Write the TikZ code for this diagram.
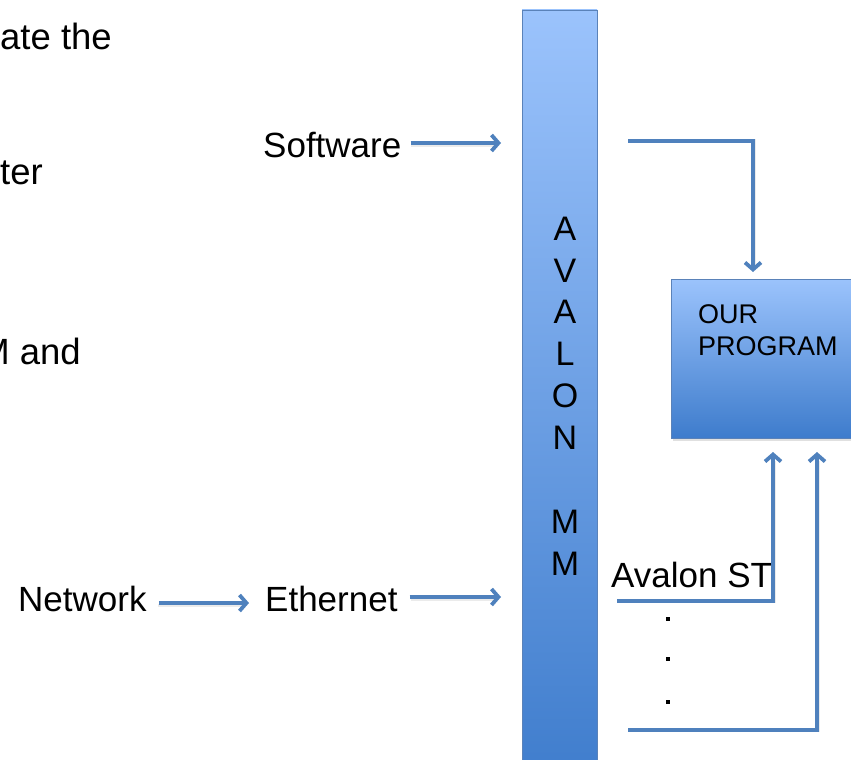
\documentclass[tikz,border=0pt]{standalone}
\usepackage{fontspec}
\setmainfont{Liberation Sans}
\usetikzlibrary{arrows.meta}
\definecolor{linkblue}{RGB}{79,129,189}
\definecolor{boxtop}{RGB}{155,195,252}
\definecolor{boxbot}{RGB}{62,124,204}
\definecolor{boxedge}{RGB}{90,130,185}
\tikzset{
  lbl/.style={inner sep=0pt, font=\fontsize{35}{40}\selectfont},
  small/.style={inner sep=0pt, font=\fontsize{27}{31.5}\selectfont, align=left},
  link/.style={draw=linkblue, line width=3.8pt,
    -{Straight Barb[length=7pt,width=16pt]}},
  shadowlink/.style={draw=black, opacity=0.08, line width=3.5pt},
  blockfill/.style={top color=boxtop, bottom color=boxbot, draw=boxedge, line width=0.8pt},
}
\begin{document}
\begin{tikzpicture}[x=1pt,y=-1pt]
\useasboundingbox (0,0) rectangle (851,760);
\clip (0,0) rectangle (851,760);

% cut-off lines of body text at the left edge
\node[lbl, anchor=base east, font=\fontsize{36.5}{40}\selectfont] (t1) at (112,50) {ate the};
\node[lbl, anchor=base east, font=\fontsize{36.5}{40}\selectfont] (t2) at (43,184) {ter};
\node[lbl, anchor=base east, font=\fontsize{36.5}{40}\selectfont] (t3) at (81,364) {M and};

% Avalon MM bus bar
\path[blockfill] (522,10) rectangle (597,790);
\node[lbl, align=center, font=\fontsize{34}{41.9}\selectfont] (mm) at (565,396)
  {A\\V\\A\\L\\O\\N\\[41.9pt]M\\M};

% program block
\path[fill=black, opacity=0.12] (673,282) rectangle (860,441);
\path[blockfill] (671,279) rectangle (860,438);
\node[small, anchor=base west] (prog) at (698,355) {OUR\\PROGRAM};
\coordinate (progtop) at (753,272);
\coordinate (progin1) at (773,452);
\coordinate (progin2) at (817,452);

% inputs
\node[lbl, anchor=base west] (sw) at (263,157) {Software};
\node[lbl, anchor=base west] (net) at (18,611) {Network};
\node[lbl, anchor=base west] (eth) at (265,611) {Ethernet};
\node[lbl, anchor=base west] (st) at (611,587) {Avalon ST};

\coordinate (swend) at (501,143);
\coordinate (netend) at (249,603);
\coordinate (ethend) at (501,597);
\coordinate (outA) at (628,141);
\coordinate (stA) at (617,601);
\coordinate (lastA) at (628,730);

% soft shadows under the links
\begin{scope}[shift={(1,2.5)}]
\draw[shadowlink] (410,143) -- (494,143);
\draw[shadowlink] (157,603) -- (242,603);
\draw[shadowlink] (410,597) -- (494,597);
\draw[shadowlink] (outA) -| (753,266);
\draw[shadowlink] (stA) -| (773,458);
\draw[shadowlink] (lastA) -| (817,458);
\end{scope}

% links
\draw[link] ([xshift=9pt]sw.east |- swend) -- (swend);
\draw[link] ([xshift=12pt]net.east |- netend) -- (netend);
\draw[link] ([xshift=12pt]eth.east |- ethend) -- (ethend);
\draw[link] (outA) -| (progtop);
\draw[link] (stA) -| (progin1);
\draw[link] (lastA) -| (progin2);

% continuation dots
\foreach \y [count=\i] in {619,659,702}
  \node[rectangle, fill=black, inner sep=0pt, minimum size=3.2pt] (dot\i) at (668,\y) {};
\end{tikzpicture}
\end{document}
